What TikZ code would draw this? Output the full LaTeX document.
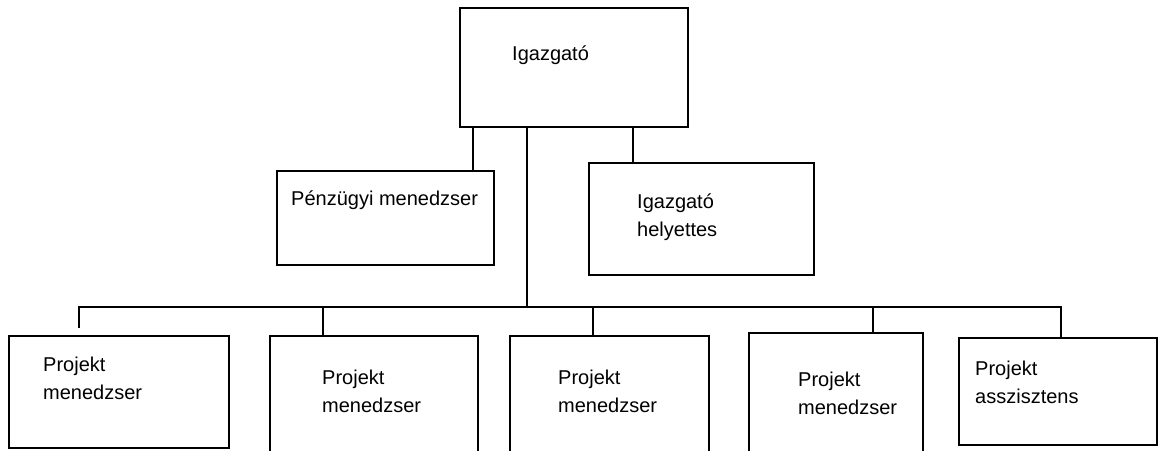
\documentclass[tikz,border=0pt]{standalone}
\usepackage{fontspec}
\setmainfont{Liberation Sans}
\begin{document}
\begin{tikzpicture}[x=1pt,y=-1pt,
  box/.style={draw, line width=1.6pt, anchor=north west, inner sep=0pt, outer sep=0pt},
  lbl/.style={anchor=base west, inner sep=0pt, align=left, font=\fontsize{20}{28}\selectfont},
  wire/.style={line width=1.6pt}]
\useasboundingbox (0,0) rectangle (1159,450);
\clip (0,0) rectangle (1159,450);
% boxes
\node[box, minimum width=228pt, minimum height=119pt] (tb) at (460,8) {};
\node[box, minimum width=217pt, minimum height=94pt] (pu) at (277,171) {};
\node[box, minimum width=225pt, minimum height=112pt] (ih) at (589,163) {};
\node[box, minimum width=220pt, minimum height=112pt] (p1) at (9,336) {};
\node[box, minimum width=208pt, minimum height=130pt] (p2) at (270,336) {};
\node[box, minimum width=199pt, minimum height=130pt] (p3) at (510,336) {};
\node[box, minimum width=174pt, minimum height=130pt] (p4) at (749,333) {};
\node[box, minimum width=198pt, minimum height=107pt] (p5) at (959,338) {};
% labels (base = baseline of last line)
\node[lbl] (tbt) at (512,60) {Igazgató};
\node[lbl] (put) at (291,205) {Pénzügyi menedzser};
\node[lbl] (iht) at (637,236) {Igazgató\\helyettes};
\node[lbl] (p1t) at (43,399) {Projekt\\menedzser};
\node[lbl] (p2t) at (322,412) {Projekt\\menedzser};
\node[lbl] (p3t) at (558,412) {Projekt\\menedzser};
\node[lbl] (p4t) at (798,414) {Projekt\\menedzser};
\node[lbl] (p5t) at (975,403) {Projekt\\asszisztens};
% connectors
\coordinate (barL) at (78,307);
\coordinate (s1) at (79,328);
\coordinate (s5) at (1061,338);
\coordinate (trunk) at ([xshift=67pt]tb.south west);
\draw[wire] ([xshift=13pt]tb.south west) -- ([xshift=13pt]tb.south west |- pu.north);
\draw[wire] ([xshift=173pt]tb.south west) -- ([xshift=173pt]tb.south west |- ih.north);
\draw[wire] (trunk) -- (trunk |- barL);
\draw[wire] (barL) -- (barL -| s5) -- (s5);
\draw[wire] (s1 |- barL) -- (s1);
\draw[wire] (barL -| 323,0) -- (p2.north -| 323,0);
\draw[wire] (barL -| 593,0) -- (p3.north -| 593,0);
\draw[wire] (barL -| 873,0) -- (p4.north -| 873,0);
\end{tikzpicture}
\end{document}
